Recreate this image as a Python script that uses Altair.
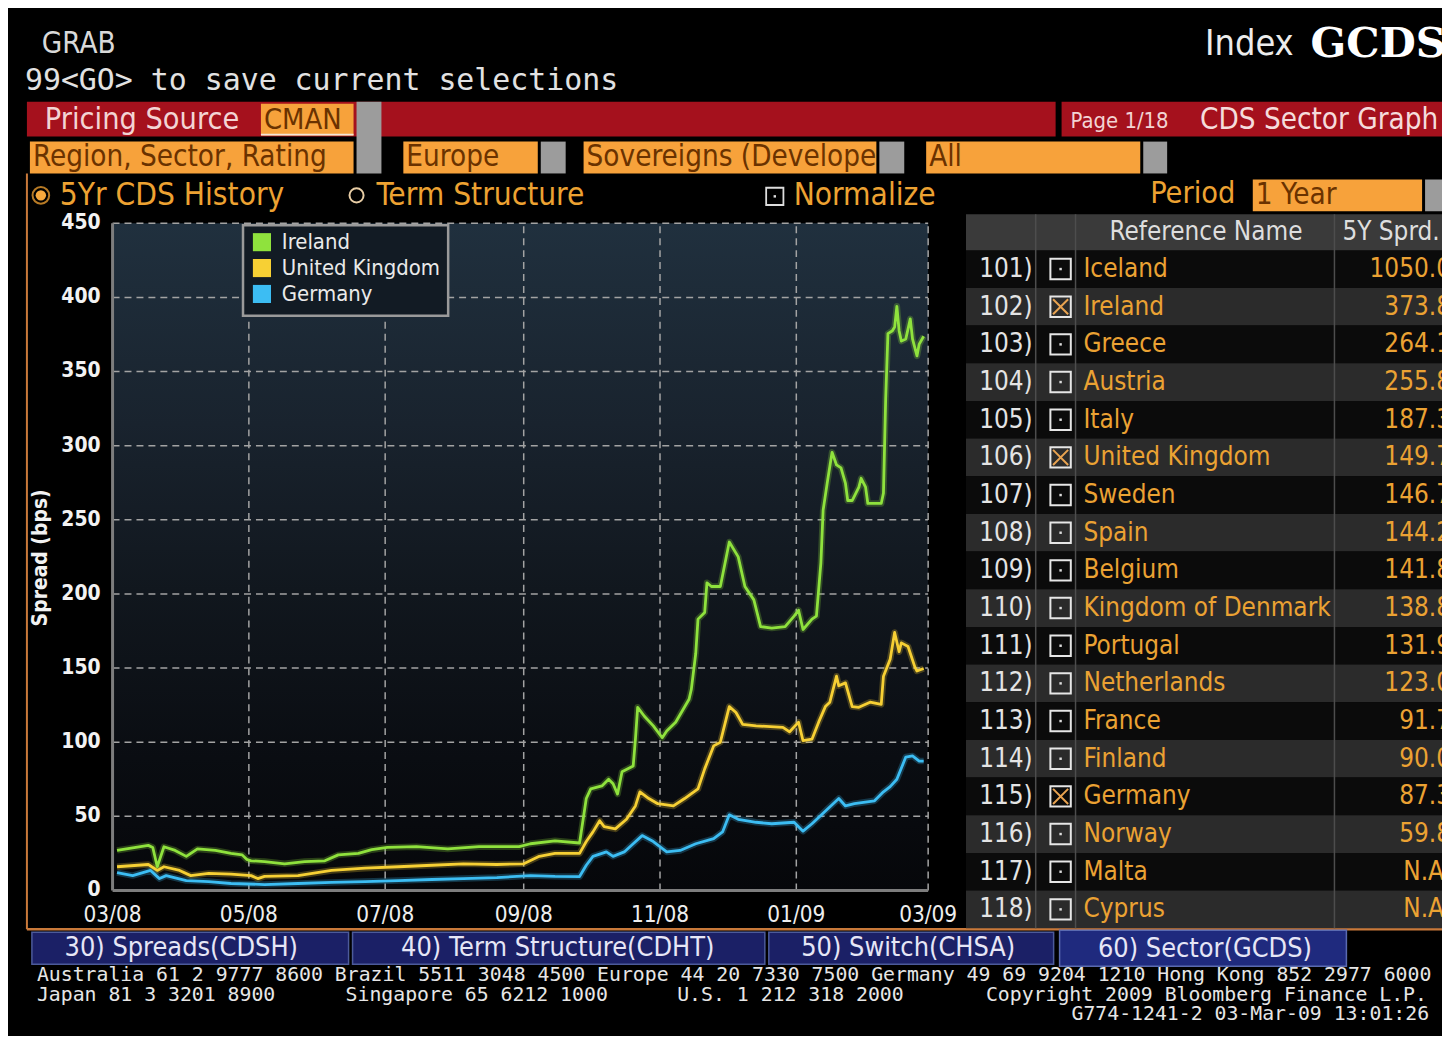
import altair as alt
import pandas as pd

# ------------------------------------------------------------------ data
ireland = [
    ("2008-03-03", 27), ("2008-03-17", 30.4), ("2008-03-19", 29), ("2008-03-21", 16),
    ("2008-03-24", 29.5), ("2008-03-29", 27), ("2008-04-03", 23), ("2008-04-08", 28),
    ("2008-04-16", 27), ("2008-04-23", 25), ("2008-04-28", 24), ("2008-04-30", 21),
    ("2008-05-02", 20), ("2008-05-08", 19.5), ("2008-05-17", 18), ("2008-05-26", 19.5),
    ("2008-06-04", 20), ("2008-06-10", 24), ("2008-06-19", 25), ("2008-06-25", 27.5),
    ("2008-07-02", 29), ("2008-07-15", 29.5), ("2008-07-29", 28), ("2008-08-12", 29.5),
    ("2008-08-30", 29.5), ("2008-09-04", 31.5), ("2008-09-15", 33.5), ("2008-09-26", 32),
    ("2008-09-29", 62), ("2008-10-01", 68.5), ("2008-10-06", 70.5), ("2008-10-09", 75),
    ("2008-10-11", 72), ("2008-10-13", 65), ("2008-10-15", 80), ("2008-10-20", 84),
    ("2008-10-21", 102), ("2008-10-22", 123.5), ("2008-10-25", 117.5), ("2008-10-29", 111),
    ("2008-11-02", 103), ("2008-11-04", 107.5), ("2008-11-08", 113.5), ("2008-11-14", 129),
    ("2008-11-15", 135.5), ("2008-11-17", 160), ("2008-11-18", 183), ("2008-11-21", 187.5),
    ("2008-11-22", 207.5), ("2008-11-24", 205), ("2008-11-28", 205), ("2008-12-02", 235),
    ("2008-12-06", 225), ("2008-12-09", 205), ("2008-12-13", 196), ("2008-12-16", 178),
    ("2008-12-21", 177), ("2008-12-27", 178), ("2008-12-31", 185), ("2009-01-02", 189),
    ("2009-01-04", 176), ("2009-01-08", 183), ("2009-01-10", 185), ("2009-01-12", 221),
    ("2009-01-13", 256.5), ("2009-01-15", 276.5), ("2009-01-17", 295.5), ("2009-01-19", 287),
    ("2009-01-21", 285), ("2009-01-23", 274.5), ("2009-01-24", 263), ("2009-01-26", 263),
    ("2009-01-29", 272), ("2009-01-30", 278), ("2009-02-01", 272), ("2009-02-02", 261),
    ("2009-02-08", 261), ("2009-02-09", 268), ("2009-02-10", 332), ("2009-02-11", 375.5),
    ("2009-02-13", 377.5), ("2009-02-14", 380), ("2009-02-15", 394), ("2009-02-16", 377.5),
    ("2009-02-17", 370.5), ("2009-02-19", 372), ("2009-02-21", 385.5), ("2009-02-22", 372),
    ("2009-02-24", 360.5), ("2009-02-25", 368.5), ("2009-02-27", 373.8),
]
united_kingdom = [
    ("2008-03-03", 16), ("2008-03-17", 17.5), ("2008-03-21", 13.5), ("2008-03-24", 16),
    ("2008-03-31", 13.5), ("2008-04-05", 10), ("2008-04-13", 11.5), ("2008-04-23", 11),
    ("2008-05-02", 10), ("2008-05-05", 8), ("2008-05-08", 9.5), ("2008-05-23", 10),
    ("2008-06-07", 13.5), ("2008-06-22", 15), ("2008-07-07", 16), ("2008-07-22", 17),
    ("2008-08-05", 18), ("2008-08-20", 17.5), ("2008-09-01", 18), ("2008-09-08", 23),
    ("2008-09-15", 25), ("2008-09-26", 25), ("2008-09-29", 33), ("2008-10-02", 39.5),
    ("2008-10-05", 47), ("2008-10-07", 43), ("2008-10-12", 41.5), ("2008-10-17", 48),
    ("2008-10-21", 57), ("2008-10-23", 66.5), ("2008-10-27", 62), ("2008-10-31", 58.5),
    ("2008-11-07", 57), ("2008-11-12", 62), ("2008-11-18", 68.5), ("2008-11-21", 82),
    ("2008-11-25", 97.5), ("2008-11-28", 100), ("2008-12-02", 124), ("2008-12-05", 120),
    ("2008-12-08", 112), ("2008-12-14", 111), ("2008-12-26", 110), ("2008-12-29", 107),
    ("2009-01-02", 113.5), ("2009-01-04", 101), ("2009-01-08", 102), ("2009-01-11", 113.5),
    ("2009-01-14", 124), ("2009-01-16", 127), ("2009-01-19", 144.5), ("2009-01-20", 138),
    ("2009-01-23", 140), ("2009-01-26", 124), ("2009-01-29", 123.5), ("2009-02-03", 127),
    ("2009-02-08", 125.5), ("2009-02-09", 144.5), ("2009-02-12", 156), ("2009-02-14", 174),
    ("2009-02-16", 161), ("2009-02-17", 167), ("2009-02-20", 164.5), ("2009-02-23", 151),
    ("2009-02-24", 148), ("2009-02-27", 149.7),
]
germany = [
    ("2008-03-03", 12), ("2008-03-10", 10), ("2008-03-18", 13.5), ("2008-03-22", 8),
    ("2008-03-25", 10), ("2008-04-03", 6.7), ("2008-04-13", 6), ("2008-04-23", 4.7),
    ("2008-05-08", 4), ("2008-05-23", 4.7), ("2008-06-07", 5.4), ("2008-06-22", 6),
    ("2008-07-07", 6.7), ("2008-07-22", 7.4), ("2008-08-05", 8), ("2008-08-20", 8.7),
    ("2008-09-04", 10), ("2008-09-15", 9.5), ("2008-09-26", 9.4), ("2008-09-29", 17),
    ("2008-10-02", 23), ("2008-10-08", 26), ("2008-10-11", 23), ("2008-10-16", 26),
    ("2008-10-20", 31.5), ("2008-10-24", 37), ("2008-10-29", 33), ("2008-11-04", 26),
    ("2008-11-10", 27), ("2008-11-17", 31.5), ("2008-11-25", 35), ("2008-11-29", 39.5),
    ("2008-12-02", 51), ("2008-12-06", 48), ("2008-12-14", 46), ("2008-12-21", 45),
    ("2008-12-31", 46), ("2009-01-04", 40), ("2009-01-08", 45), ("2009-01-15", 55),
    ("2009-01-20", 62), ("2009-01-23", 57), ("2009-01-27", 58.5), ("2009-02-05", 60.5),
    ("2009-02-09", 66.5), ("2009-02-12", 70), ("2009-02-15", 75), ("2009-02-19", 90),
    ("2009-02-22", 90.7), ("2009-02-25", 87.3), ("2009-02-27", 87.3),
]
series_names = ["Ireland", "United Kingdom", "Germany"]
series_colors = ["#8fe23d", "#f7d034", "#3cbdf3"]

y_ticks = [0, 50, 100, 150, 200, 250, 300, 350, 400, 450]
x_ticks = ["2008-03-01", "2008-05-01", "2008-07-01", "2008-09-01",
           "2008-11-01", "2009-01-01", "2009-03-01"]
x_tick_labels = ["03/08", "05/08", "07/08", "09/08", "11/08", "01/09", "03/09"]
x_domain = ["2008-03-01", "2009-03-01"]

row_numbers = ["101)", "102)", "103)", "104)", "105)", "106)", "107)", "108)", "109)",
               "110)", "111)", "112)", "113)", "114)", "115)", "116)", "117)", "118)"]
ref_names = ["Iceland", "Ireland", "Greece", "Austria", "Italy", "United Kingdom",
             "Sweden", "Spain", "Belgium", "Kingdom of Denmark", "Portugal",
             "Netherlands", "France", "Finland", "Germany", "Norway", "Malta", "Cyprus"]
spreads_5y = ["1050.0", "373.8", "264.1", "255.8", "187.3", "149.7", "146.7", "144.2",
              "141.8", "138.8", "131.9", "123.0", "91.7", "90.0", "87.3", "59.8",
              "N.A.", "N.A."]
selected = ["Ireland", "United Kingdom", "Germany"]

footer_line1 = ("Australia 61 2 9777 8600 Brazil 5511 3048 4500 Europe 44 20 7330 7500 "
                "Germany 49 69 9204 1210 Hong Kong 852 2977 6000")

# ------------------------------------------------------------------ styling
COND = "DejaVu Sans Condensed, Liberation Sans Narrow, DejaVu Sans, sans-serif"
MONO = "DejaVu Sans Mono, Liberation Mono, monospace"
SERIF = "DejaVu Serif, Liberation Serif, serif"
ORANGE = "#f7a23b"
ORANGE_TXT = "#eda232"
BOX_TXT = "#6a3200"
RED = "#a5111d"
GRAY = "#9c9c9c"


def P(v):
    return v - 8


def label(text, x, y, size, color, font=COND, align="left", weight="normal", angle=0):
    return alt.Chart(pd.DataFrame({"t": [text]})).mark_text(
        align=align, baseline="middle", fontSize=size, color=color, font=font,
        fontWeight=weight, angle=angle,
    ).encode(x=alt.value(P(x)), y=alt.value(P(y)), text="t:N")


def block(x1, y1, x2, y2, fill, stroke=None, sw=0):
    kw = {"fill": fill}
    if stroke:
        kw.update(stroke=stroke, strokeWidth=sw)
    return alt.Chart(pd.DataFrame({"a": [0]})).mark_rect(**kw).encode(
        x=alt.value(P(x1)), x2=alt.value(P(x2)), y=alt.value(P(y1)), y2=alt.value(P(y2)))


def line(x1, y1, x2, y2, color, sw=1.5):
    return alt.Chart(pd.DataFrame({"a": [0]})).mark_rule(color=color, strokeWidth=sw).encode(
        x=alt.value(P(x1)), x2=alt.value(P(x2)), y=alt.value(P(y1)), y2=alt.value(P(y2)))


def dot(x, y, size, color, filled=True, sw=2, shape="circle"):
    return alt.Chart(pd.DataFrame({"a": [0]})).mark_point(
        shape=shape, size=size, filled=filled, color=color, strokeWidth=sw, opacity=1,
    ).encode(x=alt.value(P(x)), y=alt.value(P(y)))


def XS():
    return alt.Scale(type="utc",
                     domain=[alt.DateTime(year=2008, month=3, date=1, utc=True),
                             alt.DateTime(year=2009, month=3, date=1, utc=True)],
                     range=[P(113), P(932)])


def YS():
    return alt.Scale(domain=[0, 450], range=[P(892), P(222)])


def TY():
    return alt.Scale(domain=[0, 17], range=[P(268), P(911)])


layers = []

# ------------------------------------------------------------------ header
layers += [
    label("GRAB", 42, 42, 29.5, "#d9d9d9"),
    label("99<GO> to save current selections", 25, 79, 30, "#e2e2e2", font=MONO),
    label("Index", 1210, 42, 36, "#ececec"),
    label("GCDS", 1316, 42, 42, "#ffffff", font=SERIF, weight="bold"),
    block(27, 100, 1060, 135, RED),
    block(1066, 100, 1460, 135, RED),
    label("Pricing Source", 45, 118, 30.5, "#f3d4d4"),
    block(262, 102, 355, 134, ORANGE),
    line(262, 133, 355, 133, "#f4e6d8", 2),
    label("CMAN", 265, 118, 29, BOX_TXT),
    label("Page 1/18", 1075, 119, 22, "#f3d4d4"),
    label("CDS Sector Graph", 1205, 118, 29.5, "#f5dcdc"),
    block(358, 100, 383, 172, GRAY),
    block(30, 140, 355, 172, ORANGE),
    label("Region, Sector, Rating", 33, 156, 29.5, BOX_TXT),
    block(405, 140, 540, 172, ORANGE),
    label("Europe", 408, 156, 29.5, BOX_TXT),
    block(543, 140, 568, 172, GRAY),
    block(586, 140, 880, 172, ORANGE),
    label("Sovereigns (Develope", 589, 156, 29.5, BOX_TXT),
    block(883, 140, 908, 172, GRAY),
    block(930, 140, 1145, 172, ORANGE),
    label("All", 933, 156, 29.5, BOX_TXT),
    block(1148, 140, 1172, 172, GRAY),
    # radio / checkbox row
    dot(41, 194, 280, "#b77a25", filled=False, sw=2),
    dot(41, 194, 110, "#f7a83d"),
    label("5Yr CDS History", 60, 195, 31.5, ORANGE_TXT),
    dot(358, 194, 200, "#e8cda5", filled=False, sw=2),
    label("Term Structure", 378, 195, 31.5, ORANGE_TXT),
    dot(778, 195, 300, "#dddddd", filled=False, sw=1.8, shape="square"),
    dot(778, 195, 6, "#dddddd", shape="square"),
    label("Normalize", 797, 195, 31.5, ORANGE_TXT),
    label("Period", 1155, 193, 30.5, ORANGE_TXT),
    block(1258, 178, 1428, 210, ORANGE),
    label("1 Year", 1261, 194, 29.5, BOX_TXT),
    block(1431, 178, 1460, 210, GRAY),
    # panel borders
    line(27, 172, 27, 931, "#c9793a", 2),
    line(27, 931, 1460, 931, "#c9793a", 2.5),
]

# ------------------------------------------------------------------ chart panel
bg = pd.DataFrame({"s": [x_domain[0]], "e": [x_domain[1]], "lo": [y_ticks[0]], "hi": [y_ticks[-1]]})
gradient = {
    "gradient": "linear", "x1": 0, "y1": 0, "x2": 0, "y2": 1,
    "stops": [
        {"offset": 0.0, "color": "#20303e"},
        {"offset": 0.3, "color": "#19232e"},
        {"offset": 0.55, "color": "#11171e"},
        {"offset": 0.8, "color": "#0a0d12"},
        {"offset": 1.0, "color": "#06070a"},
    ],
}
layers.append(alt.Chart(bg).mark_rect(fill=gradient).encode(
    x=alt.X("s:T", scale=XS(), axis=None), x2="e:T",
    y=alt.Y("lo:Q", scale=YS(), axis=None), y2="hi:Q"))

hgrid = pd.DataFrame({"v": y_ticks[1:], "s": x_domain[0], "e": x_domain[1]})
layers.append(alt.Chart(hgrid).mark_rule(color="#a3a3a3", strokeWidth=1.5, strokeDash=[7, 5]).encode(
    x=alt.X("s:T", scale=XS(), axis=None), x2="e:T",
    y=alt.Y("v:Q", scale=YS(), axis=None)))
vgrid = pd.DataFrame({"d": x_ticks[1:], "lo": y_ticks[0], "hi": y_ticks[-1]})
layers.append(alt.Chart(vgrid).mark_rule(color="#a3a3a3", strokeWidth=1.5, strokeDash=[7, 5]).encode(
    x=alt.X("d:T", scale=XS(), axis=None),
    y=alt.Y("lo:Q", scale=YS(), axis=None), y2="hi:Q"))
# solid axis lines
layers.append(alt.Chart(pd.DataFrame({"d": [x_ticks[0]], "lo": [0], "hi": [450]})).mark_rule(
    color="#7d7d7d", strokeWidth=3).encode(
    x=alt.X("d:T", scale=XS(), axis=None),
    y=alt.Y("lo:Q", scale=YS(), axis=None), y2="hi:Q"))
layers.append(alt.Chart(pd.DataFrame({"s": [x_domain[0]], "e": [x_domain[1]], "v": [0]})).mark_rule(
    color="#7d7d7d", strokeWidth=3).encode(
    x=alt.X("s:T", scale=XS(), axis=None), x2="e:T",
    y=alt.Y("v:Q", scale=YS(), axis=None)))

# series
rows = []
for name, pts in zip(series_names, [ireland, united_kingdom, germany]):
    for d, v in pts:
        rows.append({"date": d, "spread": v, "series": name})
lines_df = pd.DataFrame(rows)
cscale = alt.Scale(domain=series_names, range=series_colors)
layers.append(alt.Chart(lines_df).mark_line(strokeWidth=6.5, opacity=0.25, strokeJoin="round").encode(
    x=alt.X("date:T", scale=XS(), axis=None),
    y=alt.Y("spread:Q", scale=YS(), axis=None),
    color=alt.Color("series:N", scale=cscale, legend=None),
    detail="series:N"))
layers.append(alt.Chart(lines_df).mark_line(strokeWidth=2.8, strokeJoin="round").encode(
    x=alt.X("date:T", scale=XS(), axis=None),
    y=alt.Y("spread:Q", scale=YS(), axis=None),
    color=alt.Color("series:N", scale=cscale, legend=None),
    detail="series:N"))

# axis labels
layers.append(alt.Chart(pd.DataFrame({"v": y_ticks})).mark_text(
    align="right", baseline="middle", fontSize=21, color="#f2f2f2", font=COND, fontWeight="bold").encode(
    x=alt.value(P(101)), y=alt.Y("v:Q", scale=YS(), axis=None), text="v:N"))
layers.append(alt.Chart(pd.DataFrame({"d": x_ticks, "t": x_tick_labels})).mark_text(
    align="center", baseline="middle", fontSize=22.5, color="#eeeeee", font=COND).encode(
    x=alt.X("d:T", scale=XS(), axis=None), y=alt.value(P(917)), text="t:N"))
layers.append(label("Spread (bps)", 41, 558, 21, "#f2f2f2", weight="bold", angle=270, align="center"))

# legend
layers.append(block(244, 224, 450, 315, "#121b24", "#9a9a9a", 2.5))
leg = pd.DataFrame({"series": series_names, "li": [0, 1, 2]})
LS = alt.Scale(domain=[0, 2], range=[P(241), P(293)])
layers.append(alt.Chart(leg).mark_square(size=330, opacity=1).encode(
    x=alt.value(P(263)), y=alt.Y("li:Q", scale=LS, axis=None),
    color=alt.Color("series:N", scale=cscale, legend=None)))
layers.append(alt.Chart(leg).mark_text(
    align="left", baseline="middle", fontSize=22, color="#eaeaea", font=COND).encode(
    x=alt.value(P(283)), y=alt.Y("li:Q", scale=LS, axis=None), text="series:N"))

# ------------------------------------------------------------------ table
tbl = pd.DataFrame({
    "r": list(range(len(ref_names))),
    "num": row_numbers, "name": ref_names, "val": spreads_5y,
    "sel": [n in selected for n in ref_names],
})
layers.append(alt.Chart(tbl).transform_calculate(
    top="datum.r - 0.5", bot="datum.r + 0.5").mark_rect().encode(
    x=alt.value(P(970)), x2=alt.value(P(1460)),
    y=alt.Y("top:Q", scale=TY(), axis=None), y2="bot:Q",
    fill=alt.condition("datum.r % 2 == 1", alt.value("#2b2b2b"), alt.value("#0b0b0b"))))
layers += [
    block(970, 213, 1460, 249, "#3a3a3a"),
    line(1040, 213, 1040, 930, "#4d4d4d", 1.5),
    line(1080, 213, 1080, 930, "#4d4d4d", 1.5),
    line(1340, 213, 1340, 930, "#4d4d4d", 1.5),
    label("Reference Name", 1211, 231, 26, "#dedede", align="center"),
    label("5Y Sprd.", 1348, 231, 26, "#dedede"),
]
layers.append(alt.Chart(tbl).mark_text(
    align="right", baseline="middle", fontSize=26, color="#e4e4e4", font=COND).encode(
    x=alt.value(P(1037)), y=alt.Y("r:Q", scale=TY(), axis=None), text="num:N"))
layers.append(alt.Chart(tbl).mark_point(
    shape="square", size=420, filled=False, color="#e6e6e6", strokeWidth=2, opacity=1).encode(
    x=alt.value(P(1065)), y=alt.Y("r:Q", scale=TY(), axis=None)))
layers.append(alt.Chart(tbl).transform_filter("!datum.sel").mark_point(
    shape="square", size=6, filled=True, color="#dddddd", opacity=1).encode(
    x=alt.value(P(1065)), y=alt.Y("r:Q", scale=TY(), axis=None)))
layers.append(alt.Chart(tbl).transform_filter("datum.sel").mark_point(
    shape="M-1,-1L1,1M1,-1L-1,1", size=230, filled=False, color="#e9a350", strokeWidth=2, opacity=1).encode(
    x=alt.value(P(1065)), y=alt.Y("r:Q", scale=TY(), axis=None)))
layers.append(alt.Chart(tbl).mark_text(
    align="left", baseline="middle", fontSize=26, color="#eba233", font=COND).encode(
    x=alt.value(P(1088)), y=alt.Y("r:Q", scale=TY(), axis=None), text="name:N"))
layers.append(alt.Chart(tbl).mark_text(
    align="right", baseline="middle", fontSize=26, color="#eba233", font=COND).encode(
    x=alt.value(P(1457)), y=alt.Y("r:Q", scale=TY(), axis=None), text="val:N"))

# ------------------------------------------------------------------ bottom buttons / footer
TAB = "#1b2066"
layers += [
    block(32, 934, 350, 966, TAB, "#4c5a9a", 1.5),
    block(354, 934, 768, 966, TAB, "#4c5a9a", 1.5),
    block(772, 934, 1058, 966, TAB, "#4c5a9a", 1.5),
    block(1064, 932, 1352, 968, "#1f2a7e", "#5a6ab0", 1.5),
    label("30)  Spreads(CDSH)", 182, 950, 27, "#e6e6f6", align="center"),
    label("40)  Term Structure(CDHT)", 560, 950, 27, "#e6e6f6", align="center"),
    label("50)  Switch(CHSA)", 912, 950, 27, "#e6e6f6", align="center"),
    label("60)  Sector(GCDS)", 1210, 951, 27, "#e6e6f6", align="center"),
    label(footer_line1, 37, 977, 19.9, "#e6e6e6", font=MONO),
    label("Japan 81 3 3201 8900", 37, 997, 19.9, "#e6e6e6", font=MONO),
    label("Singapore 65 6212 1000", 347, 997, 19.9, "#e6e6e6", font=MONO),
    label("U.S. 1 212 318 2000", 680, 997, 19.9, "#e6e6e6", font=MONO),
    label("Copyright 2009 Bloomberg Finance L.P.", 990, 997, 19.9, "#e6e6e6", font=MONO),
    label("G774-1241-2 03-Mar-09 13:01:26", 1435, 1016, 19.9, "#e6e6e6", font=MONO, align="right"),
]

chart = alt.layer(*layers).resolve_scale(
    x="independent", y="independent", color="independent", fill="independent"
).properties(
    width=1440, height=1028, background="#000000", padding=0,
    autosize=alt.AutoSizeParams(type="none"),
).configure_view(stroke=None)

chart.save("out.html", embed_options={"renderer": "svg", "actions": False})
